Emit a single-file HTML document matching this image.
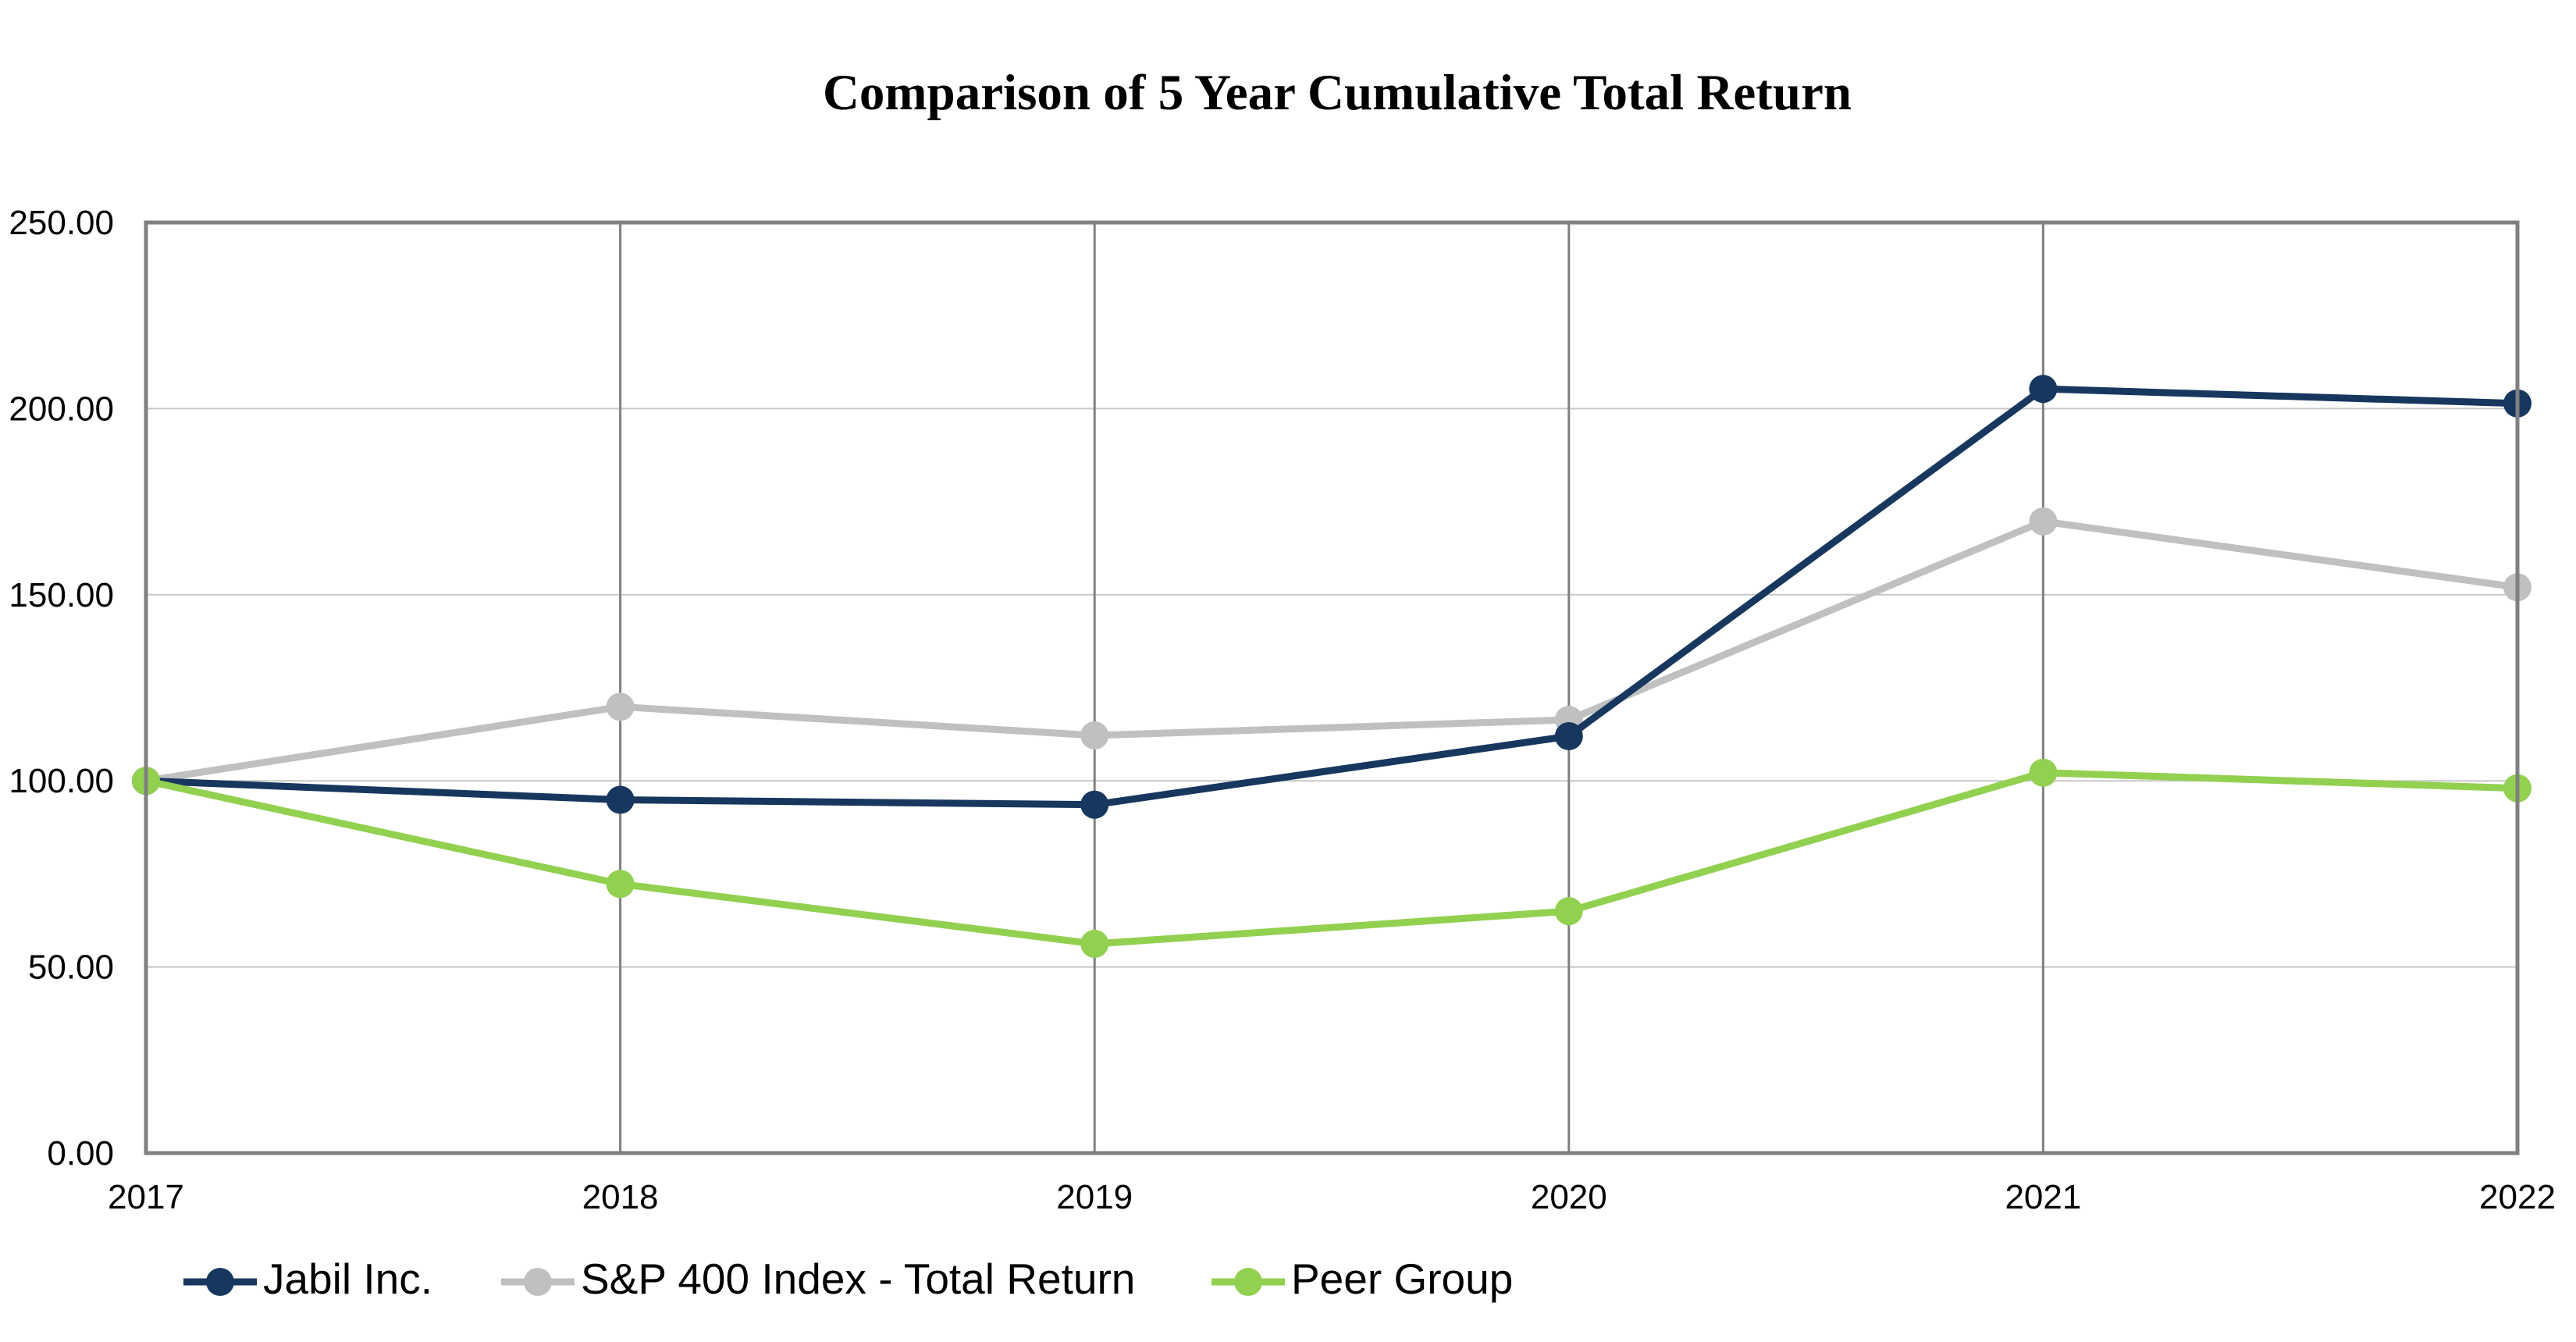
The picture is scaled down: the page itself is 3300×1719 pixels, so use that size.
<!DOCTYPE html>
<html><head><meta charset="utf-8"><style>
html,body{margin:0;padding:0;background:#fff;}
svg{display:block;}
</style></head><body>
<svg id="chart" width="3300" height="1719" viewBox="0 0 3300 1719" xmlns="http://www.w3.org/2000/svg">
<text x="1713" y="140" text-anchor="middle" font-family="Liberation Serif, serif" font-weight="bold" font-size="65">Comparison of 5 Year Cumulative Total Return</text>
<g id="grid"></g><g id="series"></g><g id="axes"></g><g id="legend"></g>
</svg>
<script>
const categories = ["2017","2018","2019","2020","2021","2022"];
const jabil = [100, 94.9, 93.6, 112.0, 205.3, 201.4];
const sp400 = [100, 119.9, 112.2, 116.4, 169.7, 152.0];
const peer = [100, 72.3, 56.2, 65.0, 102.2, 98.0];
const yTicks = [0, 50, 100, 150, 200, 250];
const yTickLabels = ["0.00","50.00","100.00","150.00","200.00","250.00"];
const seriesNames = ["Jabil Inc.","S&P 400 Index - Total Return","Peer Group"];

const NS="http://www.w3.org/2000/svg";
const L=187,R=3225,T=285,B=1477;
const x=i=>L+(R-L)*i/(categories.length-1);
const y=v=>B-(B-T)*v/250;
function mk(tag,attrs,parent){const e=document.createElementNS(NS,tag);for(const k in attrs)e.setAttribute(k,attrs[k]);parent.appendChild(e);return e;}
const grid=document.getElementById('grid'),axes=document.getElementById('axes'),ser=document.getElementById('series'),leg=document.getElementById('legend');
yTicks.forEach((t,i)=>{
  if(t>0&&t<250){const g=mk('line',{x1:L,x2:R,y1:y(t),y2:y(t),stroke:'#c8c8c8','stroke-width':2},grid);
  
  }
  const tx=mk('text',{x:146,y:y(t)+15,'text-anchor':'end','font-family':'Liberation Sans, sans-serif','font-size':44,fill:'#000'},axes);
  tx.textContent=yTickLabels[i];
  
  
});
categories.forEach((c,i)=>{
  if(i>0&&i<categories.length-1){const g=mk('line',{x1:x(i),x2:x(i),y1:T,y2:B,stroke:'#808080','stroke-width':3},grid);
  
  }
  const tx=mk('text',{x:x(i),y:1548,'text-anchor':'middle','font-family':'Liberation Sans, sans-serif','font-size':44,fill:'#000'},axes);
  tx.textContent=c;
  
  
});
const frame=mk('rect',{x:L,y:T,width:R-L,height:B-T,fill:'none',stroke:'#808080','stroke-width':5},axes);


const defs=[[sp400,'#c0c0c0','sp400'],[jabil,'#17375e','jabil'],[peer,'#92d050','peer']];
defs.forEach(([d,col,nm])=>{
  const pl=mk('polyline',{points:d.map((v,i)=>x(i)+','+y(v)).join(' '),fill:'none',stroke:col,'stroke-width':9,'stroke-linejoin':'round'},ser);
  
  
  d.forEach((v,i)=>{const c=mk('circle',{cx:x(i),cy:y(v),r:18,fill:col},ser);
  
  });
});
const legItems=[[235,'#17375e',seriesNames[0]],[642,'#c0c0c0',seriesNames[1]],[1552,'#92d050',seriesNames[2]]];
legItems.forEach(([lx,col,name])=>{
  const g=mk('g',{},leg);
  
  
  mk('line',{x1:lx,x2:lx+94,y1:1642,y2:1642,stroke:col,'stroke-width':9},g);
  mk('circle',{cx:lx+47,cy:1642,r:18,fill:col},g);
  const t=mk('text',{x:lx+102,y:1657,'font-family':'Liberation Sans, sans-serif','font-size':55,fill:'#000'},g);
  t.textContent=name;
});
</script>
</body></html>
